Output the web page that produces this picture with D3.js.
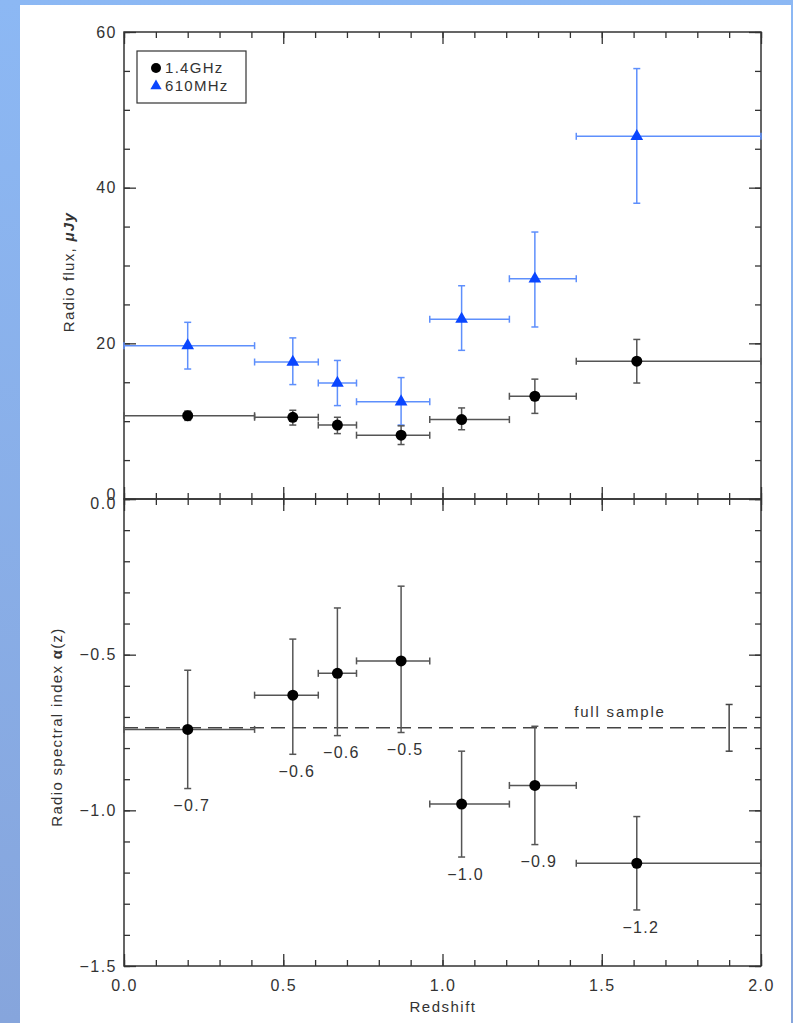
<html>
    <head>
        <meta charset="utf-8">
        <title>Radio flux and spectral index vs redshift</title>
        <style>
            body { margin: 0; }
            text { font-family: "Liberation Sans", Arial, sans-serif; fill: #333; }
        </style>
    </head>

    <body>
        <script src="https://d3js.org/d3.v7.min.js"></script>
        <script>
            // redshift bins
            var redshift = [0.20, 0.53, 0.67, 0.87, 1.06, 1.29, 1.61];
            var zLow     = [0.00, 0.41, 0.61, 0.73, 0.96, 1.21, 1.42];
            var zHigh    = [0.41, 0.61, 0.73, 0.96, 1.21, 1.42, 2.00];

            // 1.4GHz flux (uJy)
            var flux14   = [10.7, 10.5, 9.5, 8.2, 10.2, 13.2, 17.7];
            var flux14Lo = [10.1, 9.5, 8.4, 7.0, 8.9, 11.0, 14.9];
            var flux14Hi = [11.3, 11.4, 10.5, 9.4, 11.7, 15.4, 20.5];

            // 610MHz flux (uJy)
            var flux610   = [19.7, 17.6, 14.9, 12.5, 23.1, 28.3, 46.6];
            var flux610Lo = [16.7, 14.7, 12.0, 9.5, 19.1, 22.1, 38.0];
            var flux610Hi = [22.7, 20.7, 17.8, 15.6, 27.4, 34.3, 55.3];

            // spectral index
            var alpha   = [-0.74, -0.63, -0.56, -0.52, -0.98, -0.92, -1.17];
            var alphaLo = [-0.93, -0.82, -0.76, -0.75, -1.15, -1.11, -1.32];
            var alphaHi = [-0.55, -0.45, -0.35, -0.28, -0.81, -0.73, -1.02];
            var alphaLabels = ['\u22120.7', '\u22120.6', '\u22120.6', '\u22120.5', '\u22121.0', '\u22120.9', '\u22121.2'];

            // full sample value
            var fullZ = 1.9;
            var fullAlpha = -0.735;
            var fullLo = -0.81;
            var fullHi = -0.66;

            // ticks
            var xMajor = [0, 0.5, 1.0, 1.5, 2.0];
            var xMinor = d3.range(0, 2.001, 0.1);
            var fluxMajor = [0, 20, 40, 60];
            var fluxMinor = d3.range(0, 60.1, 5);
            var alphaMajor = [-1.5, -1.0, -0.5, 0];
            var alphaMinor = d3.range(-1.5, 0.001, 0.1);
            var legendNames = ['1.4GHz', '610MHz'];

            var width = 793, height = 1023;
            var plotL = 124, plotR = 761, plotT = 32, plotM = 499, plotB = 966;

            var svg = d3.select('body')
                .append('svg')
                .attr('width', width)
                .attr('height', height);

            // blue page background and white sheet
            var grad = svg.append('defs').append('linearGradient')
                .attr('id', 'bg').attr('x1', 0).attr('y1', 0).attr('x2', 0).attr('y2', 1);
            grad.append('stop').attr('offset', 0).attr('stop-color', '#8cb8f4');
            grad.append('stop').attr('offset', 1).attr('stop-color', '#86a5dc');
            svg.append('rect').attr('width', width).attr('height', height).style('fill', 'url(#bg)');
            svg.append('rect')
                .attr('x', 20).attr('y', 5)
                .attr('width', 771).attr('height', height - 5)
                .style('fill', '#fff');

            var x = d3.scaleLinear().domain([0, 2]).range([plotL, plotR]);
            var yFlux = d3.scaleLinear().domain([0, 60]).range([plotM, plotT]);
            var yAlpha = d3.scaleLinear().domain([-1.5, 0]).range([plotB, plotM]);

            function fmt(d) {
                return d3.format('.1f')(d).replace('-', '\u2212');
            }

            // draws a tick-only axis, labels optional
            function addAxis(axisFn, scale, values, size, tx, ty, format, pad) {
                var g = svg.append('g')
                    .attr('transform', 'translate(' + tx + ',' + ty + ')')
                    .call(axisFn(scale)
                        .tickValues(values)
                        .tickSize(-size)
                        .tickSizeOuter(0)
                        .tickPadding(pad || 7)
                        .tickFormat(format || ''));
                g.select('.domain').remove();
                g.selectAll('line').attr('stroke', '#333').attr('stroke-width', 1.3);
                g.selectAll('text')
                    .style('font-size', '16px')
                    .style('letter-spacing', '1.5px')
                    .style('font-family', '"Liberation Sans", Arial, sans-serif')
                    .attr('fill', '#333');
                return g;
            }

            // x axes: top, middle (both directions), bottom
            addAxis(d3.axisTop, x, xMajor, 12, 0, plotT);
            addAxis(d3.axisTop, x, xMinor, 6, 0, plotT);
            addAxis(d3.axisBottom, x, xMajor, 12, 0, plotM);
            addAxis(d3.axisBottom, x, xMinor, 6, 0, plotM);
            addAxis(d3.axisTop, x, xMajor, 12, 0, plotM);
            addAxis(d3.axisTop, x, xMinor, 6, 0, plotM);
            addAxis(d3.axisBottom, x, xMajor, 12, 0, plotB, fmt, 14);
            addAxis(d3.axisBottom, x, xMinor, 6, 0, plotB);

            // flux y axes
            var fl = addAxis(d3.axisLeft, yFlux, fluxMajor, 12, plotL, 0, d3.format('d'));
            fl.selectAll('text').attr('dy', function(d) { return d === 0 ? '0.05em' : '0.32em'; });
            addAxis(d3.axisLeft, yFlux, fluxMinor, 6, plotL, 0);
            addAxis(d3.axisRight, yFlux, fluxMajor, 12, plotR, 0);
            addAxis(d3.axisRight, yFlux, fluxMinor, 6, plotR, 0);

            // alpha y axes
            var al = addAxis(d3.axisLeft, yAlpha, alphaMajor, 12, plotL, 0, fmt);
            al.selectAll('text').attr('dy', function(d) { return d === 0 ? '0.6em' : '0.32em'; });
            addAxis(d3.axisLeft, yAlpha, alphaMinor, 6, plotL, 0);
            addAxis(d3.axisRight, yAlpha, alphaMajor, 12, plotR, 0);
            addAxis(d3.axisRight, yAlpha, alphaMinor, 6, plotR, 0);

            // frames
            [[plotT, plotM], [plotM, plotB]].forEach(function(p) {
                svg.append('rect')
                    .attr('x', plotL).attr('y', p[0])
                    .attr('width', plotR - plotL).attr('height', p[1] - p[0])
                    .style('fill', 'none')
                    .style('stroke', '#333')
                    .style('stroke-width', 1.5);
            });

            // error bars with caps
            function errorBars(yScale, val, lo, hi, color) {
                var g = svg.append('g')
                    .style('stroke', color)
                    .style('stroke-width', 1.5)
                    .style('fill', 'none');
                var cap = 3.5;
                redshift.forEach(function(z, i) {
                    var px = x(z), py = yScale(val[i]);
                    var xa = x(zLow[i]), xb = x(zHigh[i]);
                    var ya = yScale(lo[i]), yb = yScale(hi[i]);
                    g.append('line').attr('x1', xa).attr('x2', xb).attr('y1', py).attr('y2', py);
                    g.append('line').attr('x1', xa).attr('x2', xa).attr('y1', py - cap).attr('y2', py + cap);
                    g.append('line').attr('x1', xb).attr('x2', xb).attr('y1', py - cap).attr('y2', py + cap);
                    g.append('line').attr('x1', px).attr('x2', px).attr('y1', ya).attr('y2', yb);
                    g.append('line').attr('x1', px - cap).attr('x2', px + cap).attr('y1', ya).attr('y2', ya);
                    g.append('line').attr('x1', px - cap).attr('x2', px + cap).attr('y1', yb).attr('y2', yb);
                });
            }

            var tri = d3.symbol().type(d3.symbolTriangle).size(70);

            // top panel
            errorBars(yFlux, flux610, flux610Lo, flux610Hi, '#5e8ffc');
            errorBars(yFlux, flux14, flux14Lo, flux14Hi, '#555');

            svg.selectAll('path.tri')
                .data(flux610)
                .enter()
                .append('path')
                .attr('class', 'tri')
                .attr('d', tri)
                .attr('transform', function(d, i) {
                    return 'translate(' + x(redshift[i]) + ',' + yFlux(d) + ')';
                })
                .style('fill', '#0a46ff');

            svg.selectAll('circle.f14')
                .data(flux14)
                .enter()
                .append('circle')
                .attr('class', 'f14')
                .attr('cx', function(d, i) { return x(redshift[i]); })
                .attr('cy', function(d) { return yFlux(d); })
                .attr('r', 5.5)
                .style('fill', '#000');

            // legend
            var leg = svg.append('g');
            leg.append('rect')
                .attr('x', 137).attr('y', 51)
                .attr('width', 109).attr('height', 52)
                .style('fill', '#fff')
                .style('stroke', '#333')
                .style('stroke-width', 1.2);
            leg.append('circle').attr('cx', 156).attr('cy', 68).attr('r', 5).style('fill', '#000');
            leg.append('path').attr('d', d3.symbol().type(d3.symbolTriangle).size(55)).attr('transform', 'translate(156,86)').style('fill', '#0a46ff');
            leg.selectAll('text')
                .data(legendNames)
                .enter()
                .append('text')
                .attr('x', 165)
                .attr('y', function(d, i) { return 68 + i * 18; })
                .attr('dy', '0.35em')
                .style('font-size', '15px')
                .style('letter-spacing', '1.3px')
                .text(function(d) { return d; });

            // bottom panel: full sample line
            svg.append('line')
                .attr('x1', plotL).attr('x2', plotR)
                .attr('y1', yAlpha(fullAlpha)).attr('y2', yAlpha(fullAlpha))
                .style('stroke', '#444')
                .style('stroke-width', 1.5)
                .style('stroke-dasharray', '14,7');

            var fs = svg.append('g').style('stroke', '#444').style('stroke-width', 1.5);
            fs.append('line').attr('x1', x(fullZ)).attr('x2', x(fullZ)).attr('y1', yAlpha(fullLo)).attr('y2', yAlpha(fullHi));
            fs.append('line').attr('x1', x(fullZ) - 3.5).attr('x2', x(fullZ) + 3.5).attr('y1', yAlpha(fullLo)).attr('y2', yAlpha(fullLo));
            fs.append('line').attr('x1', x(fullZ) - 3.5).attr('x2', x(fullZ) + 3.5).attr('y1', yAlpha(fullHi)).attr('y2', yAlpha(fullHi));

            svg.append('text')
                .attr('x', 620)
                .attr('y', yAlpha(fullAlpha) - 11)
                .attr('text-anchor', 'middle')
                .style('font-size', '15px')
                .style('letter-spacing', '1.8px')
                .text('full sample');

            errorBars(yAlpha, alpha, alphaLo, alphaHi, '#555');

            svg.selectAll('circle.al')
                .data(alpha)
                .enter()
                .append('circle')
                .attr('class', 'al')
                .attr('cx', function(d, i) { return x(redshift[i]); })
                .attr('cy', function(d) { return yAlpha(d); })
                .attr('r', 5.5)
                .style('fill', '#000');

            svg.selectAll('text.al')
                .data(alphaLabels)
                .enter()
                .append('text')
                .attr('class', 'al')
                .attr('x', function(d, i) { return x(redshift[i]) + 4; })
                .attr('y', function(d, i) { return yAlpha(alphaLo[i]) + 17; })
                .attr('dy', '0.35em')
                .attr('text-anchor', 'middle')
                .style('font-size', '16px')
                .style('letter-spacing', '1.3px')
                .text(function(d) { return d; });

            // axis titles
            svg.append('text')
                .attr('x', 443).attr('y', 1007)
                .attr('dy', '0.35em')
                .attr('text-anchor', 'middle')
                .style('font-size', '15px')
                .style('letter-spacing', '1.5px')
                .text('Redshift');

            var t1 = svg.append('text')
                .attr('transform', 'translate(69,272) rotate(-90)')
                .attr('dy', '0.35em')
                .attr('text-anchor', 'middle')
                .style('font-size', '15px')
                .style('letter-spacing', '1.3px');
            t1.append('tspan').text('Radio flux, ');
            t1.append('tspan').style('font-weight', 'bold').style('font-style', 'italic').text('\u03bcJy');

            var t2 = svg.append('text')
                .attr('transform', 'translate(57,727) rotate(-90)')
                .attr('dy', '0.35em')
                .attr('text-anchor', 'middle')
                .style('font-size', '15px')
                .style('letter-spacing', '1.3px');
            t2.append('tspan').text('Radio spectral index ');
            t2.append('tspan').style('font-weight', 'bold').text('\u03b1');
            t2.append('tspan').text('(z)');
        </script>
    </body>
</html>
